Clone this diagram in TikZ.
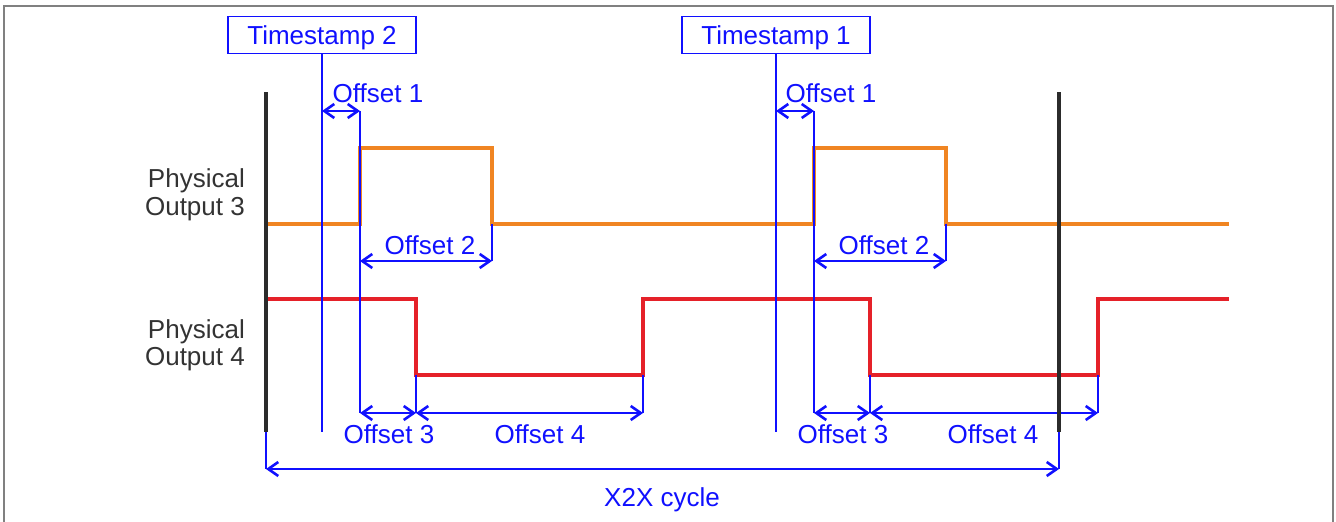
\documentclass[tikz,border=0pt]{standalone}
\usepackage{fontspec}
\setmainfont{Liberation Sans}
\usetikzlibrary{arrows.meta}
\definecolor{sigorange}{HTML}{F08522}
\definecolor{sigred}{HTML}{E52129}
\definecolor{barblack}{HTML}{2B2B2B}
\definecolor{labgray}{HTML}{333333}
\definecolor{dimblue}{HTML}{1010FF}
\definecolor{framegray}{HTML}{808080}
\begin{document}
\begin{tikzpicture}[x=1pt,y=-1pt,
  bigfont/.style={font=\fontsize{26}{28}\selectfont},
  frameline/.style={draw=framegray,line width=1.5},
  cyclebar/.style={draw=barblack,line width=4.5},
  sigthree/.style={draw=sigorange,line width=4,line join=miter},
  sigfour/.style={draw=sigred,line width=4,line join=miter},
  extline/.style={draw=dimblue,line width=1.4},
  dimline/.style={draw=dimblue,line width=1.8,
     {Straight Barb[length=10pt,width=14pt,line width=2.6pt]}-{Straight Barb[length=10pt,width=14pt,line width=2.6pt]}},
  dimlabel/.style={bigfont,text=dimblue,inner sep=0,anchor=base},
  sidelabel/.style={bigfont,text=labgray,inner sep=0,anchor=base east},
  tsbox/.style={draw=dimblue,line width=1.5,bigfont,text=dimblue,
     minimum width=188,minimum height=37,inner sep=0,text height=19,text depth=0}
]
\useasboundingbox (0,0) rectangle (1336,522);
% frame
\draw[frameline] (4,540) -- (4,6) -- (1333,6) -- (1333,540);

% timestamp boxes
\node[tsbox] (ts2) at (322,35) {Timestamp 2};
\node[tsbox] (ts1) at (776,35) {Timestamp 1};
\coordinate (ts2b) at (322,432);
\coordinate (ts1b) at (776,432);

% key coordinates
\coordinate (barLt) at (266,92);  \coordinate (barLb) at (266,432);
\coordinate (barRt) at (1059,92); \coordinate (barRb) at (1059,432);

% signals
\draw[sigthree] (266,224) -- (360,224) -- (360,148) -- (492,148) -- (492,224)
  -- (814,224) -- (814,148) -- (946,148) -- (946,224) -- (1229,224);
\draw[sigfour] (266,299) -- (416,299) -- (416,375) -- (643,375) -- (643,299)
  -- (870,299) -- (870,375) -- (1098,375) -- (1098,299) -- (1229,299);

% extension lines
\coordinate (e1t) at (360,111); \coordinate (e1b) at (360,413);
\coordinate (e2t) at (492,224); \coordinate (e2b) at (492,261);
\coordinate (e3t) at (416,375); \coordinate (e3b) at (416,413);
\coordinate (e4t) at (643,375); \coordinate (e4b) at (643,413);
\coordinate (f1t) at (814,111); \coordinate (f1b) at (814,413);
\coordinate (f2t) at (946,224); \coordinate (f2b) at (946,261);
\coordinate (f3t) at (870,375); \coordinate (f3b) at (870,413);
\coordinate (f4t) at (1098,375); \coordinate (f4b) at (1098,413);
\coordinate (cLb) at (266,469); \coordinate (cRb) at (1059,469);
\foreach \a/\b in {e1t/e1b,e2t/e2b,e3t/e3b,e4t/e4b,f1t/f1b,f2t/f2b,f3t/f3b,f4t/f4b,barLb/cLb,barRb/cRb}
  \draw[extline] (\a) -- (\b);
\draw[extline] (ts2.south) -- (ts2b);
\draw[extline] (ts1.south) -- (ts1b);

% dimension arrows
\coordinate (o1a) at (322,111); \coordinate (o1b) at (360,111);
\coordinate (o2a) at (360,261); \coordinate (o2b) at (492,261);
\coordinate (o3a) at (360,413); \coordinate (o3b) at (416,413);
\coordinate (o4a) at (416,413); \coordinate (o4b) at (643,413);
\coordinate (p1a) at (776,111); \coordinate (p1b) at (814,111);
\coordinate (p2a) at (814,261); \coordinate (p2b) at (946,261);
\coordinate (p3a) at (814,413); \coordinate (p3b) at (870,413);
\coordinate (p4a) at (870,413); \coordinate (p4b) at (1098,413);
\foreach \a/\b in {o1a/o1b,o2a/o2b,o3a/o3b,o4a/o4b,p1a/p1b,p2a/p2b,p3a/p3b,p4a/p4b,cLb/cRb}
  \draw[dimline] (\a) -- (\b);

% labels
\node[dimlabel] (l1) at (378,102) {Offset 1};
\node[dimlabel] (l2) at (430,254) {Offset 2};
\node[dimlabel] (l3) at (389,443) {Offset 3};
\node[dimlabel] (l4) at (540,443) {Offset 4};
\node[dimlabel] (m1) at (831,102) {Offset 1};
\node[dimlabel] (m2) at (884,254) {Offset 2};
\node[dimlabel] (m3) at (843,443) {Offset 3};
\node[dimlabel] (m4) at (993,443) {Offset 4};
\node[dimlabel] (cyc) at (662,506) {X2X cycle};

\node[sidelabel] (s3a) at (245,187) {Physical};
\node[sidelabel] (s3b) at (245,215) {Output 3};
\node[sidelabel] (s4a) at (245,338) {Physical};
\node[sidelabel] (s4b) at (245,365) {Output 4};

% cycle bars
\draw[cyclebar] (barLt) -- (barLb);
\draw[cyclebar] (barRt) -- (barRb);
\end{tikzpicture}
\end{document}
